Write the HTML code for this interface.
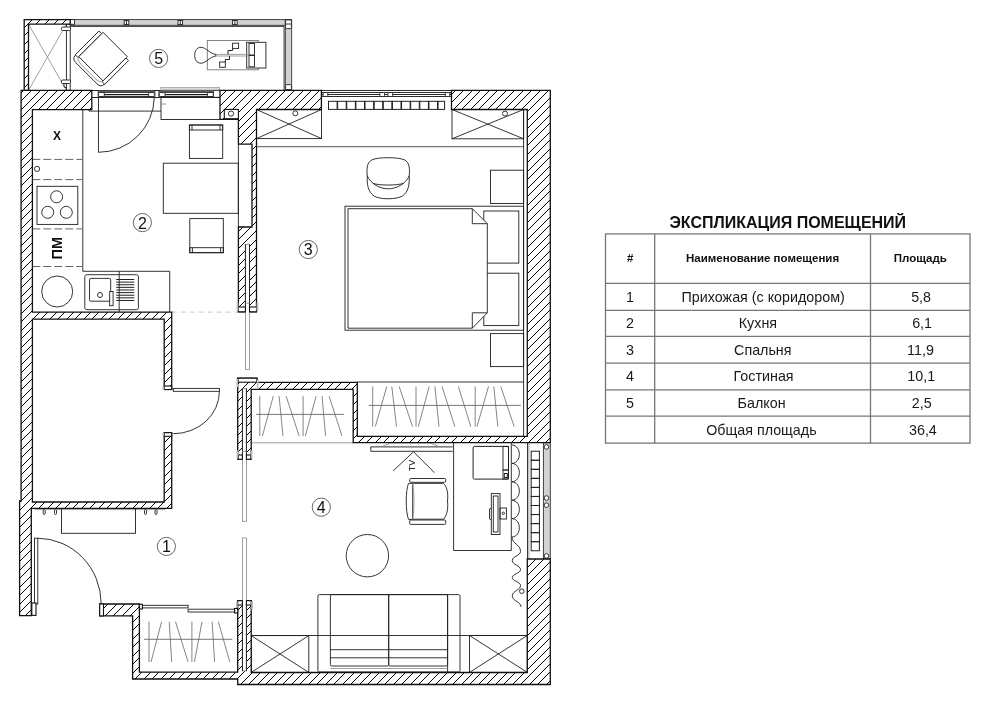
<!DOCTYPE html>
<html><head><meta charset="utf-8"><style>
html,body{margin:0;padding:0;background:#fff;}
svg{display:block;will-change:transform;font-family:"Liberation Sans",sans-serif;}
.w{fill:none;stroke:#111;stroke-width:1.3;stroke-linejoin:miter;}
.wf{fill:#fff;stroke:none;}
.hl{fill:none;stroke:#000;stroke-width:1;}
.f{fill:none;stroke:#1e1e1e;stroke-width:0.9;}
.fw{fill:#fff;stroke:#1e1e1e;stroke-width:0.9;}
.fwr{fill:#fff;stroke:#1e1e1e;stroke-width:0.9;rx:1;}
.fwk{fill:#fff;stroke:#222;stroke-width:0.9;}
.g{fill:none;stroke:#888;stroke-width:0.8;}
.g2{fill:none;stroke:#777;stroke-width:0.9;}
.k1{fill:none;stroke:#222;stroke-width:1;}
.lc{fill:none;stroke:#666;stroke-width:1;}
.sill{fill:#ddd;stroke:#999;stroke-width:0.7;}
.capk{fill:#fff;stroke:#111;stroke-width:1.1;}
.tab{fill:#bbb;stroke:none;}
.panel{fill:#fff;stroke:#888;stroke-width:0.8;}
.gl{fill:none;stroke:#777;stroke-width:1.2;}
.fw0{fill:#fff;stroke:none;}
.rail{fill:#d2d2d2;stroke:#333;stroke-width:0.9;}
.dash{fill:none;stroke:#666;stroke-width:1;stroke-dasharray:8 3;}
.dashg{fill:none;stroke:#bbb;stroke-width:0.8;stroke-dasharray:5 4;}
.hg{stroke:#666;stroke-width:0.8;}
.rod{stroke:#555;stroke-width:0.8;}
</style></head><body>
<svg width="990" height="704" viewBox="0 0 990 704">
<defs>
<clipPath id="c0"><path d="M21.1,90.3 L91.8,90.3 L91.8,109.6 L32.4,109.6 L32.4,312.1 L171.7,312.1 L171.7,389.3 L164.2,389.3 L164.2,319.2 L32.4,319.2 L32.4,502.0 L164.2,502.0 L164.2,432.7 L171.7,432.7 L171.7,508.4 L31.3,508.4 L31.3,615.6 L19.6,615.6 L19.6,501.0 L21.1,501.0 Z"/></clipPath>
<clipPath id="c1"><path d="M220.0,90.3 L321.4,90.3 L321.4,109.5 L256.5,109.5 L256.5,311.8 L238.4,311.8 L238.4,227 L252,227 L252,144.2 L238.4,144.2 L238.4,119.4 L220.0,119.4 Z"/></clipPath>
<clipPath id="c2"><path d="M451.5,90.3 L550.3,90.3 L550.3,442.7 L353.2,442.7 L353.2,389.3 L251.2,389.3 L251.2,459 L237.7,459 L237.7,378.2 L256.9,378.2 L256.9,382.4 L357.3,382.4 L357.3,436.4 L527.3,436.4 L527.3,109.5 L451.5,109.5 Z"/></clipPath>
<clipPath id="c3"><path d="M527.3,559 L550.3,559 L550.3,684.5 L237.7,684.5 L237.7,679 L132.6,679 L132.6,615.9 L99.7,615.9 L99.7,604 L139.4,604 L139.4,672.2 L237.7,672.2 L237.7,600.7 L251.2,600.7 L251.2,672.5 L527.3,672.5 Z"/></clipPath>
<clipPath id="c4"><path d="M24.2,19.6 L70.2,19.6 L70.2,24.1 L28.5,24.1 L28.5,90.3 L24.2,90.3 Z"/></clipPath>
</defs>
<rect class="rail" x="70.20" y="19.60" width="215.10" height="5.70" />
<line class="f" x1="70.20" y1="26.40" x2="284.10" y2="26.40"/>
<rect class="rail" x="285.30" y="19.60" width="6.40" height="70.20" />
<line class="f" x1="284.10" y1="26.40" x2="284.10" y2="90.30"/>
<rect class="fw" x="124.20" y="20.40" width="4.60" height="4.20" />
<line class="f" x1="126.50" y1="20.40" x2="126.50" y2="24.60"/>
<rect class="fw" x="178.00" y="20.40" width="4.60" height="4.20" />
<line class="f" x1="180.30" y1="20.40" x2="180.30" y2="24.60"/>
<rect class="fw" x="232.60" y="20.40" width="4.60" height="4.20" />
<line class="f" x1="234.90" y1="20.40" x2="234.90" y2="24.60"/>
<rect class="fw" x="70.20" y="19.60" width="4.40" height="4.70" />
<rect class="fwr" x="285.60" y="20.00" width="5.80" height="4.60" />
<rect class="fwr" x="285.60" y="24.00" width="5.80" height="4.60" />
<rect class="fwr" x="285.60" y="84.60" width="5.80" height="5.00" />
<line class="g" x1="28.50" y1="24.10" x2="66.40" y2="90.30"/>
<line class="g" x1="66.40" y1="24.10" x2="28.50" y2="90.30"/>
<rect class="fw" x="66.40" y="24.10" width="3.80" height="66.20" />
<rect class="fwr" x="61.50" y="27.00" width="9.00" height="3.50" />
<rect class="fwr" x="61.50" y="80.00" width="9.00" height="3.50" />
<path class="f" d="M64,83.5 L64,87 L67,88"/>
<g transform="translate(103,56.6) rotate(45)">
<rect class="fw" x="-17.20" y="-17.20" width="34.40" height="34.40" />
<rect class="fw" x="-20.90" y="-15.20" width="3.70" height="33.60" />
<rect class="fw" x="17.20" y="-15.20" width="3.70" height="33.60" />
<path class="f" d="M-20.5,18.4 Q-20.5,23.5 -15,23.5 L15,23.5 Q20.5,23.5 20.5,18.4"/>
<path class="g" d="M-17.2,17.2 Q-16.5,20.8 -12,21 L12,21 Q16.5,20.8 17.2,17.2"/>
</g>
<circle class="lc" cx="158.6" cy="58.4" r="9.1"/>
<text x="158.6" y="64.35" font-size="16" font-weight="normal" text-anchor="middle" fill="#111">5</text>
<rect class="g2" x="207.30" y="40.50" width="51.00" height="29.30" />
<rect class="fw" x="246.70" y="42.30" width="19.20" height="25.70" />
<rect class="f" x="249.00" y="43.50" width="5.50" height="11.50" />
<rect class="f" x="249.00" y="55.50" width="5.50" height="11.30" />
<path class="f" d="M201,47.3 C206,47.3 209.5,53.6 215.9,54.4 L215.9,56.0 C209.5,56.8 206,63.2 201,63.2 C196.5,63.2 194.7,59.5 194.7,55.2 C194.7,51 196.5,47.3 201,47.3 Z"/>
<line class="g" x1="215.90" y1="54.40" x2="249.00" y2="54.40"/>
<line class="g" x1="215.90" y1="56.00" x2="249.00" y2="56.00"/>
<rect class="f" x="232.60" y="43.20" width="6.00" height="5.20" />
<path class="k1" d="M232.6,48.4 L232.6,50.5 L228,50.5 L228,54.4"/>
<rect class="f" x="219.70" y="62.00" width="5.60" height="5.30" />
<path class="k1" d="M225.3,62 L225.3,59.5 L229.5,59.5 L229.5,56"/>
<rect class="fw0" x="91.80" y="90.30" width="128.20" height="7.50" />
<line class="k1" x1="91.80" y1="90.50" x2="220.00" y2="90.50"/>
<line class="k1" x1="91.80" y1="97.50" x2="220.00" y2="97.50"/>
<line class="f" x1="98.20" y1="90.30" x2="98.20" y2="97.50"/>
<line class="f" x1="154.90" y1="90.30" x2="154.90" y2="97.50"/>
<line class="f" x1="158.90" y1="90.30" x2="158.90" y2="97.50"/>
<line class="f" x1="213.40" y1="90.30" x2="213.40" y2="97.50"/>
<rect x="98.5" y="90" width="55.9" height="3" fill="#444"/>
<rect x="98.5" y="91" width="55.9" height="1" fill="#5a5a5a"/>
<rect x="98.5" y="94" width="55.9" height="1" fill="#1a1a1a"/>
<rect x="98.5" y="95" width="55.9" height="1" fill="#ccc"/>
<rect x="98.5" y="96" width="55.9" height="2" fill="#333"/>
<rect class="fwr" x="98.50" y="92.50" width="5.80" height="4.00" />
<rect class="fwr" x="148.60" y="92.50" width="5.80" height="4.00" />
<rect x="159.3" y="90" width="54.0" height="3" fill="#444"/>
<rect x="159.3" y="91" width="54.0" height="1" fill="#5a5a5a"/>
<rect x="159.3" y="94" width="54.0" height="1" fill="#1a1a1a"/>
<rect x="159.3" y="95" width="54.0" height="1" fill="#ccc"/>
<rect x="159.3" y="96" width="54.0" height="2" fill="#333"/>
<rect class="fwr" x="159.30" y="92.50" width="5.80" height="4.00" />
<rect class="fwr" x="207.50" y="92.50" width="5.80" height="4.00" />
<rect class="sill" x="160.80" y="87.40" width="58.90" height="2.60" />
<rect class="fw0" x="321.40" y="90.30" width="129.80" height="6.60" />
<line x1="321.4" y1="90.5" x2="451.2" y2="90.5" stroke="#2a2a2a" stroke-width="1"/>
<line x1="321.4" y1="92.5" x2="451.2" y2="92.5" stroke="#2a2a2a" stroke-width="1"/>
<line x1="321.4" y1="94.5" x2="451.2" y2="94.5" stroke="#2a2a2a" stroke-width="1"/>
<line x1="321.4" y1="96.5" x2="451.2" y2="96.5" stroke="#2a2a2a" stroke-width="1"/>
<rect class="fwr" x="323.10" y="92.50" width="4.70" height="4.00" />
<rect class="fwr" x="379.80" y="92.50" width="4.70" height="4.00" />
<rect class="fwr" x="387.90" y="92.50" width="4.70" height="4.00" />
<rect class="fwr" x="445.40" y="92.50" width="4.30" height="4.00" />
<rect class="k1" x="328.50" y="101.30" width="8.60" height="8.10" />
<rect class="k1" x="337.63" y="101.30" width="8.60" height="8.10" />
<rect class="k1" x="346.76" y="101.30" width="8.60" height="8.10" />
<rect class="k1" x="355.89" y="101.30" width="8.60" height="8.10" />
<rect class="k1" x="365.02" y="101.30" width="8.60" height="8.10" />
<rect class="k1" x="374.15" y="101.30" width="8.60" height="8.10" />
<rect class="k1" x="383.28" y="101.30" width="8.60" height="8.10" />
<rect class="k1" x="392.41" y="101.30" width="8.60" height="8.10" />
<rect class="k1" x="401.54" y="101.30" width="8.60" height="8.10" />
<rect class="k1" x="410.67" y="101.30" width="8.60" height="8.10" />
<rect class="k1" x="419.80" y="101.30" width="8.60" height="8.10" />
<rect class="k1" x="428.93" y="101.30" width="8.60" height="8.10" />
<rect class="k1" x="438.06" y="101.30" width="6.54" height="8.10" />
<rect class="rail" x="543.40" y="442.70" width="6.90" height="116.30" />
<circle class="fwk" cx="546.5" cy="446.9" r="2.3"/>
<circle class="fwk" cx="546.5" cy="498.0" r="2.3"/>
<circle class="fwk" cx="546.5" cy="505.2" r="2.3"/>
<circle class="fwk" cx="546.5" cy="555.9" r="2.3"/>
<rect class="k1" x="531.20" y="451.20" width="8.20" height="9.05" />
<rect class="k1" x="531.20" y="460.25" width="8.20" height="9.05" />
<rect class="k1" x="531.20" y="469.30" width="8.20" height="9.05" />
<rect class="k1" x="531.20" y="478.35" width="8.20" height="9.05" />
<rect class="k1" x="531.20" y="487.40" width="8.20" height="9.05" />
<rect class="k1" x="531.20" y="496.45" width="8.20" height="9.05" />
<rect class="k1" x="531.20" y="505.50" width="8.20" height="9.05" />
<rect class="k1" x="531.20" y="514.55" width="8.20" height="9.05" />
<rect class="k1" x="531.20" y="523.60" width="8.20" height="9.05" />
<rect class="k1" x="531.20" y="532.65" width="8.20" height="9.05" />
<rect class="k1" x="531.20" y="541.70" width="8.20" height="9.05" />
<line class="f" x1="527.50" y1="442.70" x2="527.50" y2="559.00"/>
<line class="g" x1="528.90" y1="442.70" x2="528.90" y2="559.00"/>
<line class="f" x1="82.80" y1="110.00" x2="82.80" y2="271.30"/>
<line class="f" x1="82.80" y1="271.30" x2="169.70" y2="271.30"/>
<line class="f" x1="169.70" y1="271.30" x2="169.70" y2="312.10"/>
<line class="dash" x1="32.30" y1="159.40" x2="82.80" y2="159.40"/>
<line class="dash" x1="32.30" y1="179.60" x2="82.80" y2="179.60"/>
<line class="dash" x1="32.30" y1="228.90" x2="82.80" y2="228.90"/>
<line class="dash" x1="32.30" y1="266.50" x2="82.80" y2="266.50"/>
<text x="57.1" y="139.7" font-size="12" font-weight="bold" text-anchor="middle" fill="#111">X</text>
<circle class="f" cx="37.1" cy="168.9" r="2.6"/>
<rect class="f" x="37.00" y="186.30" width="40.80" height="38.10" />
<circle class="f" cx="56.6" cy="196.8" r="6"/>
<circle class="f" cx="47.7" cy="212.3" r="6"/>
<circle class="f" cx="66.3" cy="212.3" r="6"/>
<text x="0" y="0" font-size="14.5" font-weight="bold" text-anchor="middle" fill="#111" transform="translate(62.2,248.2) rotate(-90)">ПМ</text>
<circle class="f" cx="57.2" cy="291.5" r="15.5"/>
<rect class="f" x="84.80" y="274.70" width="53.60" height="35.00" rx="2"/>
<rect class="f" x="89.50" y="278.40" width="21.20" height="22.80" rx="1.5"/>
<circle class="f" cx="100" cy="295" r="2.5"/>
<rect class="fw" x="109.70" y="291.50" width="3.40" height="14.20" />
<line class="k1" x1="116.20" y1="279.50" x2="134.30" y2="279.50"/>
<line class="k1" x1="116.20" y1="282.12" x2="134.30" y2="282.12"/>
<line class="k1" x1="116.20" y1="284.74" x2="134.30" y2="284.74"/>
<line class="k1" x1="116.20" y1="287.36" x2="134.30" y2="287.36"/>
<line class="k1" x1="116.20" y1="289.98" x2="134.30" y2="289.98"/>
<line class="k1" x1="116.20" y1="292.60" x2="134.30" y2="292.60"/>
<line class="k1" x1="116.20" y1="295.22" x2="134.30" y2="295.22"/>
<line class="k1" x1="116.20" y1="297.84" x2="134.30" y2="297.84"/>
<line class="k1" x1="116.20" y1="300.46" x2="134.30" y2="300.46"/>
<line class="f" x1="119.20" y1="271.30" x2="119.20" y2="312.10"/>
<line class="f" x1="98.50" y1="97.30" x2="98.50" y2="152.30"/>
<path class="f" d="M154.3,97.3 A56,56 0 0 1 98.5,152.3"/>
<line class="f" x1="89.00" y1="111.10" x2="161.00" y2="111.10"/>
<line class="f" x1="89.00" y1="97.30" x2="89.00" y2="111.10"/>
<rect class="f" x="161.00" y="97.30" width="59.40" height="22.20" />
<line class="g" x1="161.00" y1="104.00" x2="166.00" y2="104.00"/>
<rect class="f" x="163.30" y="163.20" width="75.00" height="50.10" />
<rect class="f" x="189.40" y="125.00" width="33.30" height="33.40" />
<rect class="f" x="189.40" y="125.00" width="33.30" height="5.00" />
<line class="f" x1="192.00" y1="125.00" x2="192.00" y2="130.00"/>
<line class="f" x1="220.00" y1="125.00" x2="220.00" y2="130.00"/>
<rect class="f" x="189.80" y="218.60" width="33.50" height="34.10" />
<rect class="f" x="189.80" y="247.70" width="33.50" height="5.00" />
<line class="f" x1="192.40" y1="247.70" x2="192.40" y2="252.70"/>
<line class="f" x1="220.60" y1="247.70" x2="220.60" y2="252.70"/>
<circle class="lc" cx="142.4" cy="222.6" r="9.1"/>
<text x="142.4" y="228.54999999999998" font-size="16" font-weight="normal" text-anchor="middle" fill="#111">2</text>
<line class="dashg" x1="171.70" y1="312.10" x2="238.00" y2="312.10"/>
<rect class="f" x="256.50" y="109.50" width="65.00" height="29.10" />
<line class="f" x1="256.50" y1="109.50" x2="321.50" y2="138.60"/>
<line class="f" x1="321.50" y1="109.50" x2="256.50" y2="138.60"/>
<circle class="f" cx="295.3" cy="113.3" r="2.5"/>
<rect class="f" x="452.00" y="109.50" width="71.60" height="29.30" />
<line class="f" x1="452.00" y1="109.50" x2="523.60" y2="138.80"/>
<line class="f" x1="523.60" y1="109.50" x2="452.00" y2="138.80"/>
<circle class="f" cx="505" cy="113.6" r="2.5"/>
<line class="gl" x1="256.50" y1="146.60" x2="523.60" y2="146.60"/>
<line class="f" x1="523.60" y1="109.50" x2="523.60" y2="436.40"/>
<rect class="f" x="345.00" y="206.20" width="178.60" height="124.00" />
<rect class="f" x="483.80" y="211.00" width="35.00" height="52.10" />
<rect class="f" x="483.80" y="273.20" width="35.00" height="52.40" />
<path class="fw" d="M348,208.7 L472.3,208.7 L487.3,223.7 L487.3,312.8 L472.3,328.2 L348,328.2 Z"/>
<path class="f" d="M472.3,208.7 L472.3,223.7 L487.3,223.7"/>
<path class="f" d="M472.3,328.2 L472.3,312.8 L487.3,312.8"/>
<rect class="f" x="490.50" y="170.20" width="33.10" height="33.30" />
<rect class="f" x="490.50" y="333.60" width="33.10" height="33.00" />
<path class="f" d="M367.3,176 C366.5,168 367,162.5 372,159.8 C378,157 398,157 404.5,159.8 C409.3,162.5 410,168 409.2,176"/>
<path class="f" d="M367.3,176 C371,184 380,188.8 388.2,188.8 C396.5,188.8 405.5,184 409.2,176"/>
<path class="f" d="M373,183.4 C380,185.6 396,185.6 403.5,183.4"/>
<path class="f" d="M367.3,176 C366.8,184 368,192 374,196 C380,199.7 396,199.7 402.5,196 C408.5,192 409.6,184 409.2,176"/>
<circle class="lc" cx="308.3" cy="249.5" r="9.1"/>
<text x="308.3" y="255.45" font-size="16" font-weight="normal" text-anchor="middle" fill="#111">3</text>
<line class="g" x1="251.20" y1="442.80" x2="353.20" y2="442.80"/>
<line class="rod" x1="256.10" y1="414.40" x2="343.90" y2="414.40"/>
<line class="hg" x1="259.80" y1="396.10" x2="259.80" y2="436.10"/>
<line class="hg" x1="273.30" y1="396.10" x2="262.40" y2="436.10"/>
<line class="hg" x1="279.10" y1="396.10" x2="283.00" y2="436.10"/>
<line class="hg" x1="286.10" y1="396.10" x2="299.20" y2="436.10"/>
<line class="hg" x1="303.10" y1="396.10" x2="303.10" y2="436.10"/>
<line class="hg" x1="316.10" y1="396.10" x2="305.30" y2="436.10"/>
<line class="hg" x1="322.00" y1="396.10" x2="325.60" y2="436.10"/>
<line class="hg" x1="329.10" y1="396.10" x2="342.00" y2="436.10"/>
<line class="f" x1="357.30" y1="382.00" x2="523.60" y2="382.00"/>
<line class="rod" x1="368.80" y1="405.40" x2="520.80" y2="405.40"/>
<line class="hg" x1="372.70" y1="386.50" x2="372.70" y2="426.60"/>
<line class="hg" x1="386.80" y1="386.50" x2="375.30" y2="426.60"/>
<line class="hg" x1="391.80" y1="386.50" x2="396.50" y2="426.60"/>
<line class="hg" x1="399.20" y1="386.50" x2="412.50" y2="426.60"/>
<line class="hg" x1="416.00" y1="386.50" x2="416.00" y2="426.60"/>
<line class="hg" x1="429.20" y1="386.50" x2="418.30" y2="426.60"/>
<line class="hg" x1="434.90" y1="386.50" x2="439.00" y2="426.60"/>
<line class="hg" x1="442.00" y1="386.50" x2="454.90" y2="426.60"/>
<line class="hg" x1="458.40" y1="386.50" x2="470.80" y2="426.60"/>
<line class="hg" x1="475.20" y1="386.50" x2="475.20" y2="426.60"/>
<line class="hg" x1="488.50" y1="386.50" x2="477.00" y2="426.60"/>
<line class="hg" x1="493.80" y1="386.50" x2="497.80" y2="426.60"/>
<line class="hg" x1="500.80" y1="386.50" x2="514.10" y2="426.60"/>
<line class="rod" x1="144.00" y1="639.30" x2="232.30" y2="639.30"/>
<line class="hg" x1="149.00" y1="621.70" x2="149.00" y2="662.00"/>
<line class="hg" x1="161.60" y1="621.70" x2="151.00" y2="662.00"/>
<line class="hg" x1="169.20" y1="621.70" x2="171.70" y2="662.00"/>
<line class="hg" x1="175.50" y1="621.70" x2="188.10" y2="662.00"/>
<line class="hg" x1="191.90" y1="621.70" x2="191.90" y2="662.00"/>
<line class="hg" x1="202.00" y1="621.70" x2="194.40" y2="662.00"/>
<line class="hg" x1="212.10" y1="621.70" x2="214.60" y2="662.00"/>
<line class="hg" x1="218.40" y1="621.70" x2="229.80" y2="662.00"/>
<rect class="fw" x="140.00" y="605.30" width="48.10" height="2.60" />
<rect class="fw" x="188.10" y="609.20" width="48.90" height="2.80" />
<rect class="fw" x="173.30" y="388.40" width="46.10" height="2.90" />
<path class="f" d="M219.4,391.3 A46,42.4 0 0 1 173.3,433.7"/>
<line class="g" x1="34.50" y1="509.60" x2="165.50" y2="509.60"/>
<rect class="f" x="61.50" y="508.20" width="74.00" height="25.10" />
<rect class="fwr" x="43.20" y="509.60" width="2.00" height="4.90" />
<rect class="fwr" x="54.50" y="509.60" width="2.00" height="4.90" />
<rect class="fwr" x="144.50" y="509.60" width="2.00" height="4.90" />
<rect class="fwr" x="155.00" y="509.60" width="2.00" height="4.90" />
<circle class="lc" cx="166.4" cy="546.4" r="9.1"/>
<text x="166.4" y="552.35" font-size="16" font-weight="normal" text-anchor="middle" fill="#111">1</text>
<rect class="fw" x="34.50" y="538.20" width="3.30" height="65.80" />
<path class="f" d="M37.8,538.2 A64,65.8 0 0 1 101.2,603.5"/>
<line class="f" x1="370.80" y1="446.90" x2="452.70" y2="446.90"/>
<line class="f" x1="370.80" y1="451.30" x2="452.70" y2="451.30"/>
<line class="f" x1="370.80" y1="446.90" x2="370.80" y2="451.30"/>
<line class="f" x1="413.60" y1="451.80" x2="393.10" y2="470.90"/>
<line class="f" x1="413.60" y1="451.80" x2="434.50" y2="472.70"/>
<text x="0" y="0" font-size="9" font-weight="normal" text-anchor="middle" fill="#222" transform="translate(415.2,465.5) rotate(-90)" text-anchor="middle">TV</text>
<path class="f" d="M453.6,442.7 L453.6,550.5 L511.3,550.5 L511.3,442.7"/>
<rect class="k1" x="473.10" y="446.40" width="35.40" height="32.70" rx="1.5"/>
<rect class="f" x="503.00" y="446.40" width="5.50" height="23.60" />
<rect class="f" x="503.00" y="470.00" width="5.50" height="9.00" />
<rect class="k1" x="504.30" y="473.50" width="3.00" height="4.00" />
<rect class="fw" x="491.30" y="493.60" width="8.70" height="40.90" />
<rect class="f" x="493.30" y="496.00" width="4.70" height="36.00" />
<rect class="f" x="500.00" y="508.00" width="6.40" height="11.00" />
<circle class="f" cx="503.3" cy="513.3" r="1.2"/>
<path class="f" d="M491.3,508 L489.5,509 L489.5,519 L491.3,520"/>
<rect class="f" x="409.70" y="478.50" width="36.00" height="3.80" rx="1"/>
<line class="f" x1="413.10" y1="483.40" x2="443.40" y2="483.40"/>
<rect class="f" x="409.70" y="520.00" width="36.00" height="4.40" rx="1"/>
<line class="f" x1="413.10" y1="519.20" x2="443.40" y2="519.20"/>
<path class="f" d="M412.7,483.4 L408.5,483.4 C405.5,490 405.5,512 408.5,519.4 L412.7,519.4 Z"/>
<path class="g" d="M412.7,483.4 C414.5,495 414.5,508 412.7,519.4"/>
<path class="f" d="M443.4,483.4 C446.5,486 448.5,492 447.5,501 C448.5,510 446.5,516 443.4,519.4"/>
<path class="g" d="M381.4,446.7 L390.7,442.9 L429.4,442.9 L441.4,447.2"/>
<path class="f" d="M512,445 C521.8,445.5 521.8,462.9 512,463.4 C521.8,463.9 521.8,481.3 512,481.8 C521.8,482.3 521.8,499.7 512,500.2 C521.8,500.7 521.8,518.1 512,518.6 C521.8,519.1 521.8,536.5 512,537.0 C512,544.2 520.5,544.2 520.5,551.4 C520.5,556.0 512.3,556.0 512.3,560.5 C512.3,565.1 520.5,565.1 520.5,569.7 C520.5,573.6 512.3,573.6 512.3,577.5 C512.3,581.5 520.5,581.5 520.5,585.4 C520.5,590.6 512.3,590.6 512.3,595.8 C512.3,601.4 521,601.4 521,607"/>
<circle class="fw" cx="521.8" cy="591.2" r="2.3"/>
<circle class="f" cx="367.4" cy="555.7" r="21.2"/>
<circle class="lc" cx="321.3" cy="507.2" r="9.1"/>
<text x="321.3" y="513.15" font-size="16" font-weight="normal" text-anchor="middle" fill="#111">4</text>
<line class="f" x1="251.20" y1="635.50" x2="527.30" y2="635.50"/>
<rect class="f" x="251.20" y="635.60" width="57.60" height="36.80" />
<line class="f" x1="251.20" y1="635.60" x2="308.80" y2="672.40"/>
<line class="f" x1="308.80" y1="635.60" x2="251.20" y2="672.40"/>
<rect class="f" x="469.50" y="635.50" width="57.80" height="36.90" />
<line class="f" x1="469.50" y1="635.50" x2="527.30" y2="672.40"/>
<line class="f" x1="527.30" y1="635.50" x2="469.50" y2="672.40"/>
<rect class="f" x="317.90" y="594.60" width="142.10" height="77.40" rx="1.5"/>
<rect class="f" x="330.40" y="594.60" width="58.30" height="71.40" rx="1.5"/>
<rect class="f" x="388.70" y="594.60" width="58.90" height="71.40" rx="1.5"/>
<line class="f" x1="447.60" y1="594.60" x2="447.60" y2="672.00"/>
<line class="f" x1="330.40" y1="649.70" x2="447.60" y2="649.70"/>
<line class="f" x1="330.40" y1="657.80" x2="447.60" y2="657.80"/>
<line class="g" x1="330.40" y1="668.50" x2="447.60" y2="668.50"/>
<path class="wf" d="M21.1,90.3 L91.8,90.3 L91.8,109.6 L32.4,109.6 L32.4,312.1 L171.7,312.1 L171.7,389.3 L164.2,389.3 L164.2,319.2 L32.4,319.2 L32.4,502.0 L164.2,502.0 L164.2,432.7 L171.7,432.7 L171.7,508.4 L31.3,508.4 L31.3,615.6 L19.6,615.6 L19.6,501.0 L21.1,501.0 Z"/>
<path class="wf" d="M220.0,90.3 L321.4,90.3 L321.4,109.5 L256.5,109.5 L256.5,311.8 L238.4,311.8 L238.4,227 L252,227 L252,144.2 L238.4,144.2 L238.4,119.4 L220.0,119.4 Z"/>
<path class="wf" d="M451.5,90.3 L550.3,90.3 L550.3,442.7 L353.2,442.7 L353.2,389.3 L251.2,389.3 L251.2,459 L237.7,459 L237.7,378.2 L256.9,378.2 L256.9,382.4 L357.3,382.4 L357.3,436.4 L527.3,436.4 L527.3,109.5 L451.5,109.5 Z"/>
<path class="wf" d="M527.3,559 L550.3,559 L550.3,684.5 L237.7,684.5 L237.7,679 L132.6,679 L132.6,615.9 L99.7,615.9 L99.7,604 L139.4,604 L139.4,672.2 L237.7,672.2 L237.7,600.7 L251.2,600.7 L251.2,672.5 L527.3,672.5 Z"/>
<path class="wf" d="M24.2,19.6 L70.2,19.6 L70.2,24.1 L28.5,24.1 L28.5,90.3 L24.2,90.3 Z"/>
<path clip-path="url(#c0)" class="hl" d="M19.60,94.40L23.70,90.30M19.60,102.40L31.70,90.30M19.60,111.40L40.70,90.30M19.60,119.40L48.70,90.30M19.60,128.40L57.70,90.30M19.60,136.40L65.70,90.30M19.60,145.40L74.70,90.30M19.60,153.40L82.70,90.30M19.60,162.40L91.70,90.30M19.60,170.40L99.70,90.30M19.60,179.40L108.70,90.30M19.60,187.40L116.70,90.30M19.60,196.40L125.70,90.30M19.60,204.40L133.70,90.30M19.60,213.40L142.70,90.30M19.60,221.40L150.70,90.30M19.60,230.40L159.70,90.30M19.60,238.40L167.70,90.30M19.60,247.40L171.70,95.30M19.60,255.40L171.70,103.30M19.60,264.40L171.70,112.30M19.60,272.40L171.70,120.30M19.60,281.40L171.70,129.30M19.60,289.40L171.70,137.30M19.60,298.40L171.70,146.30M19.60,306.40L171.70,154.30M19.60,315.40L171.70,163.30M19.60,323.40L171.70,171.30M19.60,332.40L171.70,180.30M19.60,340.40L171.70,188.30M19.60,349.40L171.70,197.30M19.60,357.40L171.70,205.30M19.60,366.40L171.70,214.30M19.60,374.40L171.70,222.30M19.60,383.40L171.70,231.30M19.60,391.40L171.70,239.30M19.60,400.40L171.70,248.30M19.60,408.40L171.70,256.30M19.60,417.40L171.70,265.30M19.60,425.40L171.70,273.30M19.60,434.40L171.70,282.30M19.60,442.40L171.70,290.30M19.60,451.40L171.70,299.30M19.60,459.40L171.70,307.30M19.60,468.40L171.70,316.30M19.60,476.40L171.70,324.30M19.60,485.40L171.70,333.30M19.60,493.40L171.70,341.30M19.60,502.40L171.70,350.30M19.60,510.40L171.70,358.30M19.60,519.40L171.70,367.30M19.60,527.40L171.70,375.30M19.60,536.40L171.70,384.30M19.60,544.40L171.70,392.30M19.60,553.40L171.70,401.30M19.60,561.40L171.70,409.30M19.60,570.40L171.70,418.30M19.60,578.40L171.70,426.30M19.60,587.40L171.70,435.30M19.60,595.40L171.70,443.30M19.60,604.40L171.70,452.30M19.60,612.40L171.70,460.30M25.40,615.60L171.70,469.30M33.40,615.60L171.70,477.30M42.40,615.60L171.70,486.30M50.40,615.60L171.70,494.30M59.40,615.60L171.70,503.30M67.40,615.60L171.70,511.30M76.40,615.60L171.70,520.30M84.40,615.60L171.70,528.30M93.40,615.60L171.70,537.30M101.40,615.60L171.70,545.30M110.40,615.60L171.70,554.30M118.40,615.60L171.70,562.30M127.40,615.60L171.70,571.30M135.40,615.60L171.70,579.30M144.40,615.60L171.70,588.30M152.40,615.60L171.70,596.30M161.40,615.60L171.70,605.30M169.40,615.60L171.70,613.30"/>
<path clip-path="url(#c1)" class="hl" d="M220.00,97.00L226.70,90.30M220.00,106.00L235.70,90.30M220.00,114.00L243.70,90.30M220.00,122.00L251.70,90.30M220.00,131.00L260.70,90.30M220.00,140.00L269.70,90.30M220.00,148.00L277.70,90.30M220.00,156.00L285.70,90.30M220.00,165.00L294.70,90.30M220.00,174.00L303.70,90.30M220.00,182.00L311.70,90.30M220.00,190.00L319.70,90.30M220.00,199.00L321.40,97.60M220.00,208.00L321.40,106.60M220.00,216.00L321.40,114.60M220.00,224.00L321.40,122.60M220.00,233.00L321.40,131.60M220.00,242.00L321.40,140.60M220.00,250.00L321.40,148.60M220.00,258.00L321.40,156.60M220.00,267.00L321.40,165.60M220.00,276.00L321.40,174.60M220.00,284.00L321.40,182.60M220.00,292.00L321.40,190.60M220.00,301.00L321.40,199.60M220.00,310.00L321.40,208.60M226.20,311.80L321.40,216.60M234.20,311.80L321.40,224.60M243.20,311.80L321.40,233.60M252.20,311.80L321.40,242.60M260.20,311.80L321.40,250.60M268.20,311.80L321.40,258.60M277.20,311.80L321.40,267.60M286.20,311.80L321.40,276.60M294.20,311.80L321.40,284.60M302.20,311.80L321.40,292.60M311.20,311.80L321.40,301.60M320.20,311.80L321.40,310.60"/>
<path clip-path="url(#c2)" class="hl" d="M237.70,95.30L242.70,90.30M237.70,104.30L251.70,90.30M237.70,112.30L259.70,90.30M237.70,121.30L268.70,90.30M237.70,129.30L276.70,90.30M237.70,138.30L285.70,90.30M237.70,146.30L293.70,90.30M237.70,155.30L302.70,90.30M237.70,163.30L310.70,90.30M237.70,172.30L319.70,90.30M237.70,180.30L327.70,90.30M237.70,189.30L336.70,90.30M237.70,197.30L344.70,90.30M237.70,206.30L353.70,90.30M237.70,214.30L361.70,90.30M237.70,223.30L370.70,90.30M237.70,231.30L378.70,90.30M237.70,240.30L387.70,90.30M237.70,248.30L395.70,90.30M237.70,257.30L404.70,90.30M237.70,265.30L412.70,90.30M237.70,274.30L421.70,90.30M237.70,282.30L429.70,90.30M237.70,291.30L438.70,90.30M237.70,299.30L446.70,90.30M237.70,308.30L455.70,90.30M237.70,316.30L463.70,90.30M237.70,325.30L472.70,90.30M237.70,333.30L480.70,90.30M237.70,342.30L489.70,90.30M237.70,350.30L497.70,90.30M237.70,359.30L506.70,90.30M237.70,367.30L514.70,90.30M237.70,376.30L523.70,90.30M237.70,384.30L531.70,90.30M237.70,393.30L540.70,90.30M237.70,401.30L548.70,90.30M237.70,410.30L550.30,97.70M237.70,418.30L550.30,105.70M237.70,427.30L550.30,114.70M237.70,435.30L550.30,122.70M237.70,444.30L550.30,131.70M237.70,452.30L550.30,139.70M240.00,459.00L550.30,148.70M248.00,459.00L550.30,156.70M257.00,459.00L550.30,165.70M265.00,459.00L550.30,173.70M274.00,459.00L550.30,182.70M282.00,459.00L550.30,190.70M291.00,459.00L550.30,199.70M299.00,459.00L550.30,207.70M308.00,459.00L550.30,216.70M316.00,459.00L550.30,224.70M325.00,459.00L550.30,233.70M333.00,459.00L550.30,241.70M342.00,459.00L550.30,250.70M350.00,459.00L550.30,258.70M359.00,459.00L550.30,267.70M367.00,459.00L550.30,275.70M376.00,459.00L550.30,284.70M384.00,459.00L550.30,292.70M393.00,459.00L550.30,301.70M401.00,459.00L550.30,309.70M410.00,459.00L550.30,318.70M418.00,459.00L550.30,326.70M427.00,459.00L550.30,335.70M435.00,459.00L550.30,343.70M444.00,459.00L550.30,352.70M452.00,459.00L550.30,360.70M461.00,459.00L550.30,369.70M469.00,459.00L550.30,377.70M478.00,459.00L550.30,386.70M486.00,459.00L550.30,394.70M495.00,459.00L550.30,403.70M503.00,459.00L550.30,411.70M512.00,459.00L550.30,420.70M520.00,459.00L550.30,428.70M529.00,459.00L550.30,437.70M537.00,459.00L550.30,445.70M546.00,459.00L550.30,454.70"/>
<path clip-path="url(#c3)" class="hl" d="M99.70,561.30L102.00,559.00M99.70,570.30L111.00,559.00M99.70,578.30L119.00,559.00M99.70,587.30L128.00,559.00M99.70,595.30L136.00,559.00M99.70,604.30L145.00,559.00M99.70,612.30L153.00,559.00M99.70,621.30L162.00,559.00M99.70,629.30L170.00,559.00M99.70,638.30L179.00,559.00M99.70,646.30L187.00,559.00M99.70,655.30L196.00,559.00M99.70,663.30L204.00,559.00M99.70,672.30L213.00,559.00M99.70,680.30L221.00,559.00M104.50,684.50L230.00,559.00M112.50,684.50L238.00,559.00M121.50,684.50L247.00,559.00M129.50,684.50L255.00,559.00M138.50,684.50L264.00,559.00M146.50,684.50L272.00,559.00M155.50,684.50L281.00,559.00M163.50,684.50L289.00,559.00M172.50,684.50L298.00,559.00M180.50,684.50L306.00,559.00M189.50,684.50L315.00,559.00M197.50,684.50L323.00,559.00M206.50,684.50L332.00,559.00M214.50,684.50L340.00,559.00M223.50,684.50L349.00,559.00M231.50,684.50L357.00,559.00M240.50,684.50L366.00,559.00M248.50,684.50L374.00,559.00M257.50,684.50L383.00,559.00M265.50,684.50L391.00,559.00M274.50,684.50L400.00,559.00M282.50,684.50L408.00,559.00M291.50,684.50L417.00,559.00M299.50,684.50L425.00,559.00M308.50,684.50L434.00,559.00M316.50,684.50L442.00,559.00M325.50,684.50L451.00,559.00M333.50,684.50L459.00,559.00M342.50,684.50L468.00,559.00M350.50,684.50L476.00,559.00M359.50,684.50L485.00,559.00M367.50,684.50L493.00,559.00M376.50,684.50L502.00,559.00M384.50,684.50L510.00,559.00M393.50,684.50L519.00,559.00M401.50,684.50L527.00,559.00M410.50,684.50L536.00,559.00M418.50,684.50L544.00,559.00M427.50,684.50L550.30,561.70M435.50,684.50L550.30,569.70M444.50,684.50L550.30,578.70M452.50,684.50L550.30,586.70M461.50,684.50L550.30,595.70M469.50,684.50L550.30,603.70M478.50,684.50L550.30,612.70M486.50,684.50L550.30,620.70M495.50,684.50L550.30,629.70M503.50,684.50L550.30,637.70M512.50,684.50L550.30,646.70M520.50,684.50L550.30,654.70M529.50,684.50L550.30,663.70M537.50,684.50L550.30,671.70M546.50,684.50L550.30,680.70"/>
<path clip-path="url(#c4)" class="hl" d="M24.20,19.80L24.40,19.60M24.20,27.80L32.40,19.60M24.20,35.80L40.40,19.60M24.20,44.80L49.40,19.60M24.20,53.80L58.40,19.60M24.20,61.80L66.40,19.60M24.20,69.80L70.20,23.80M24.20,78.80L70.20,32.80M24.20,87.80L70.20,41.80M29.70,90.30L70.20,49.80M37.70,90.30L70.20,57.80M46.70,90.30L70.20,66.80M55.70,90.30L70.20,75.80M63.70,90.30L70.20,83.80"/>
<path class="w" d="M21.1,90.3 L91.8,90.3 L91.8,109.6 L32.4,109.6 L32.4,312.1 L171.7,312.1 L171.7,389.3 L164.2,389.3 L164.2,319.2 L32.4,319.2 L32.4,502.0 L164.2,502.0 L164.2,432.7 L171.7,432.7 L171.7,508.4 L31.3,508.4 L31.3,615.6 L19.6,615.6 L19.6,501.0 L21.1,501.0 Z"/>
<path class="w" d="M220.0,90.3 L321.4,90.3 L321.4,109.5 L256.5,109.5 L256.5,311.8 L238.4,311.8 L238.4,227 L252,227 L252,144.2 L238.4,144.2 L238.4,119.4 L220.0,119.4 Z"/>
<line class="f" x1="238.40" y1="144.20" x2="238.40" y2="227.00"/>
<path class="w" d="M451.5,90.3 L550.3,90.3 L550.3,442.7 L353.2,442.7 L353.2,389.3 L251.2,389.3 L251.2,459 L237.7,459 L237.7,378.2 L256.9,378.2 L256.9,382.4 L357.3,382.4 L357.3,436.4 L527.3,436.4 L527.3,109.5 L451.5,109.5 Z"/>
<path class="w" d="M527.3,559 L550.3,559 L550.3,684.5 L237.7,684.5 L237.7,679 L132.6,679 L132.6,615.9 L99.7,615.9 L99.7,604 L139.4,604 L139.4,672.2 L237.7,672.2 L237.7,600.7 L251.2,600.7 L251.2,672.5 L527.3,672.5 Z"/>
<path class="w" d="M24.2,19.6 L70.2,19.6 L70.2,24.1 L28.5,24.1 L28.5,90.3 L24.2,90.3 Z"/>
<rect class="panel" x="245.40" y="244.50" width="4.10" height="125.00" />
<line class="k1" x1="245.40" y1="244.50" x2="245.40" y2="307.00"/>
<line class="k1" x1="249.50" y1="244.50" x2="249.50" y2="307.00"/>
<line class="g" x1="245.40" y1="303.20" x2="249.50" y2="303.20"/>
<rect class="capk" x="238.40" y="307.00" width="7.00" height="4.80" />
<rect class="capk" x="249.50" y="307.00" width="7.00" height="4.80" />
<rect class="tab" x="236.60" y="302.50" width="1.80" height="8.50" />
<rect class="tab" x="256.50" y="302.50" width="1.80" height="8.50" />
<rect class="capk" x="238.00" y="378.20" width="18.90" height="4.00" />
<rect class="tab" x="236.40" y="379.00" width="1.60" height="8.00" />
<rect class="tab" x="256.90" y="380.00" width="1.60" height="8.00" />
<rect class="panel" x="242.40" y="388.40" width="4.00" height="132.90" />
<line class="k1" x1="242.40" y1="388.40" x2="242.40" y2="455.00"/>
<line class="k1" x1="246.40" y1="388.40" x2="246.40" y2="455.00"/>
<line class="g" x1="242.40" y1="451.20" x2="246.40" y2="451.20"/>
<rect class="capk" x="238.40" y="455.00" width="4.00" height="4.30" />
<rect class="capk" x="246.40" y="455.00" width="4.30" height="4.30" />
<rect class="tab" x="236.60" y="450.50" width="1.80" height="8.00" />
<rect class="tab" x="250.70" y="450.50" width="1.80" height="8.00" />
<rect class="panel" x="242.40" y="537.90" width="4.00" height="133.10" />
<line class="k1" x1="242.40" y1="605.00" x2="242.40" y2="671.00"/>
<line class="k1" x1="246.40" y1="605.00" x2="246.40" y2="671.00"/>
<rect class="capk" x="237.70" y="600.70" width="4.70" height="4.30" />
<rect class="capk" x="246.40" y="600.70" width="4.80" height="4.30" />
<rect class="tab" x="235.90" y="601.50" width="1.80" height="8.00" />
<rect class="tab" x="251.20" y="601.50" width="1.80" height="8.00" />
<rect class="capk" x="164.20" y="386.00" width="7.50" height="3.60" />
<rect class="capk" x="164.20" y="432.70" width="7.50" height="3.60" />
<rect class="tab" x="162.50" y="386.50" width="1.70" height="3.50" />
<rect class="tab" x="162.50" y="432.50" width="1.70" height="3.50" />
<rect class="capk" x="31.80" y="603.00" width="4.20" height="12.40" />
<rect class="capk" x="99.70" y="604.00" width="3.80" height="11.90" />
<rect class="capk" x="224.30" y="109.40" width="14.10" height="10.00" />
<line class="k1" x1="224.30" y1="118.60" x2="238.40" y2="118.60"/>
<circle class="f" cx="231.0" cy="113.6" r="2.6"/>
<rect class="capk" x="139.40" y="604.30" width="3.00" height="4.70" />
<rect class="capk" x="234.60" y="608.50" width="3.10" height="4.50" />
<rect x="605.5" y="233.9" width="364.5" height="209.20000000000002" fill="none" stroke="#777" stroke-width="1.3"/>
<line x1="605.5" y1="283.4" x2="970" y2="283.4" stroke="#777" stroke-width="1.3"/>
<line x1="605.5" y1="310.3" x2="970" y2="310.3" stroke="#777" stroke-width="1.3"/>
<line x1="605.5" y1="336.4" x2="970" y2="336.4" stroke="#777" stroke-width="1.3"/>
<line x1="605.5" y1="363.1" x2="970" y2="363.1" stroke="#777" stroke-width="1.3"/>
<line x1="605.5" y1="389.8" x2="970" y2="389.8" stroke="#777" stroke-width="1.3"/>
<line x1="605.5" y1="416.2" x2="970" y2="416.2" stroke="#777" stroke-width="1.3"/>
<line x1="654.7" y1="233.9" x2="654.7" y2="443.1" stroke="#777" stroke-width="1.3"/>
<line x1="870.5" y1="233.9" x2="870.5" y2="443.1" stroke="#777" stroke-width="1.3"/>
<text x="787.8" y="227.9" font-size="16" font-weight="bold" text-anchor="middle" fill="#111">ЭКСПЛИКАЦИЯ ПОМЕЩЕНИЙ</text>
<text x="630.1" y="262.4" font-size="11.5" font-weight="bold" text-anchor="middle" fill="#111">#</text>
<text x="762.6" y="262.4" font-size="11.5" font-weight="bold" text-anchor="middle" fill="#111">Наименование помещения</text>
<text x="920.25" y="262.4" font-size="11.5" font-weight="bold" text-anchor="middle" fill="#111">Площадь</text>
<text x="630.1" y="301.8" font-size="14.3" text-anchor="middle" fill="#1a1a1a">1</text>
<text x="763.2" y="301.8" font-size="14.3" text-anchor="middle" fill="#1a1a1a">Прихожая (с коридором)</text>
<text x="921.1" y="301.8" font-size="14.3" text-anchor="middle" fill="#1a1a1a">5,8</text>
<text x="630.1" y="328.2" font-size="14.3" text-anchor="middle" fill="#1a1a1a">2</text>
<text x="757.9" y="328.2" font-size="14.3" text-anchor="middle" fill="#1a1a1a">Кухня</text>
<text x="922.1" y="328.2" font-size="14.3" text-anchor="middle" fill="#1a1a1a">6,1</text>
<text x="630.1" y="354.6" font-size="14.3" text-anchor="middle" fill="#1a1a1a">3</text>
<text x="762.8" y="354.6" font-size="14.3" text-anchor="middle" fill="#1a1a1a">Спальня</text>
<text x="920.5" y="354.6" font-size="14.3" text-anchor="middle" fill="#1a1a1a">11,9</text>
<text x="630.1" y="381.4" font-size="14.3" text-anchor="middle" fill="#1a1a1a">4</text>
<text x="763.6" y="381.4" font-size="14.3" text-anchor="middle" fill="#1a1a1a">Гостиная</text>
<text x="921.2" y="381.4" font-size="14.3" text-anchor="middle" fill="#1a1a1a">10,1</text>
<text x="630.1" y="407.9" font-size="14.3" text-anchor="middle" fill="#1a1a1a">5</text>
<text x="761.6" y="407.9" font-size="14.3" text-anchor="middle" fill="#1a1a1a">Балкон</text>
<text x="921.8" y="407.9" font-size="14.3" text-anchor="middle" fill="#1a1a1a">2,5</text>
<text x="761.4" y="434.5" font-size="14.3" text-anchor="middle" fill="#1a1a1a">Общая площадь</text>
<text x="922.9" y="434.5" font-size="14.3" text-anchor="middle" fill="#1a1a1a">36,4</text>
</svg>
</body></html>
